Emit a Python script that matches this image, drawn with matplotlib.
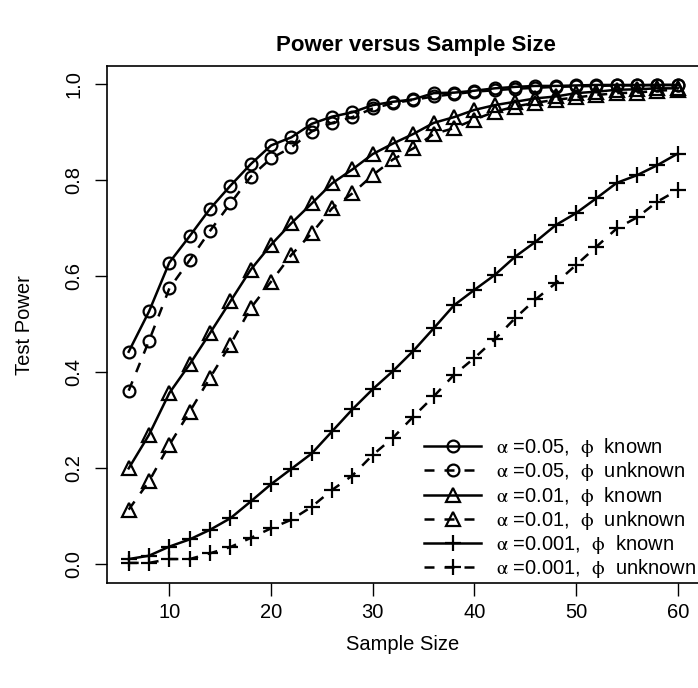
import numpy as np
import matplotlib
matplotlib.use('Agg')
import matplotlib.pyplot as plt

plt.rcParams['font.family'] = ['Liberation Sans', 'DejaVu Sans']
plt.rcParams['mathtext.fontset'] = 'stix'

# sample sizes 6, 8, ..., 60
n = list(range(6, 61, 2))

# alpha = 0.05
p05_known = [0.443, 0.527, 0.629, 0.684, 0.741, 0.789, 0.834, 0.873, 0.890, 0.918,
             0.933, 0.942, 0.957, 0.964, 0.969, 0.982, 0.983, 0.987, 0.992, 0.995,
             0.997, 0.997, 0.998, 0.999, 0.999, 0.999, 0.999, 0.999]
p05_unknown = [0.362, 0.466, 0.575, 0.634, 0.695, 0.752, 0.808, 0.846, 0.869, 0.902,
               0.920, 0.932, 0.950, 0.961, 0.968, 0.975, 0.980, 0.985, 0.988, 0.991,
               0.993, 0.995, 0.996, 0.997, 0.998, 0.998, 0.999, 0.999]
# alpha = 0.01
p01_known = [0.200, 0.270, 0.357, 0.417, 0.482, 0.548, 0.614, 0.666, 0.711, 0.752,
             0.794, 0.823, 0.855, 0.877, 0.897, 0.920, 0.932, 0.947, 0.957, 0.964,
             0.971, 0.975, 0.982, 0.985, 0.989, 0.990, 0.992, 0.992]
p01_unknown = [0.114, 0.173, 0.249, 0.318, 0.389, 0.458, 0.534, 0.589, 0.645, 0.690,
               0.742, 0.773, 0.811, 0.844, 0.867, 0.897, 0.909, 0.927, 0.943, 0.954,
               0.962, 0.968, 0.973, 0.978, 0.982, 0.983, 0.987, 0.989]
# alpha = 0.001
p001_known = [0.011, 0.018, 0.037, 0.052, 0.072, 0.096, 0.131, 0.167, 0.199, 0.231,
              0.277, 0.323, 0.365, 0.403, 0.445, 0.492, 0.540, 0.572, 0.603, 0.641,
              0.672, 0.707, 0.732, 0.763, 0.795, 0.811, 0.832, 0.856]
p001_unknown = [0.003, 0.003, 0.011, 0.011, 0.023, 0.036, 0.055, 0.075, 0.093, 0.120,
                0.155, 0.185, 0.228, 0.264, 0.308, 0.350, 0.395, 0.430, 0.469, 0.513,
                0.552, 0.586, 0.624, 0.662, 0.700, 0.723, 0.756, 0.780]

labels = [r'$\mathrm{\alpha}$ =0.05,  $\mathrm{\phi}$  known',
          r'$\mathrm{\alpha}$ =0.05,  $\mathrm{\phi}$  unknown',
          r'$\mathrm{\alpha}$ =0.01,  $\mathrm{\phi}$  known',
          r'$\mathrm{\alpha}$ =0.01,  $\mathrm{\phi}$  unknown',
          r'$\mathrm{\alpha}$ =0.001,  $\mathrm{\phi}$  known',
          r'$\mathrm{\alpha}$ =0.001,  $\mathrm{\phi}$  unknown']

fig = plt.figure(figsize=(6.98, 6.88), dpi=100)
ax = fig.add_axes([0.1529, 0.1522, 0.8496, 0.7522])

series = [p05_known, p05_unknown, p01_known, p01_unknown, p001_known, p001_unknown]
markers = ['o', 'o', '^', '^', '+', '+']
msizes = [8.5, 8.5, 10, 10, 12, 12]
for i, y in enumerate(series):
    ls = '-' if i % 2 == 0 else (0, (4, 4))
    ax.plot(n, y, color='black', lw=1.8, ls=ls, marker=markers[i],
            ms=msizes[i], mfc='none', mec='black', mew=1.6, label=labels[i])

ax.set_xlim(3.84, 62.16)
ax.set_ylim(-0.0395, 1.039)
ax.set_xticks([10, 20, 30, 40, 50, 60])
ax.set_yticks([0.0, 0.2, 0.4, 0.6, 0.8, 1.0])
ax.set_yticklabels(['0.0', '0.2', '0.4', '0.6', '0.8', '1.0'], rotation=90, va='center')
ax.tick_params(axis='both', length=9, width=1.0, labelsize=14.5, direction='out')
ax.tick_params(axis='x', pad=5)
ax.tick_params(axis='y', pad=8)
for s in ax.spines.values():
    s.set_linewidth(1.2)

# axis labels and title placed in figure pixels
fig.text(403 / 698, 1 - 645 / 688, 'Sample Size', ha='center', va='center', fontsize=14.5)
fig.text(25 / 698, 1 - 325 / 688, 'Test Power', ha='center', va='center',
         rotation=90, fontsize=14.5)
fig.text(416 / 698, 1 - 45 / 688, 'Power versus Sample Size', ha='center', va='center',
         fontsize=16, fontweight='bold')

ax.legend(loc='lower right', frameon=False, fontsize=14.5, handlelength=2.85,
          handletextpad=0.75, labelspacing=0.06, borderaxespad=0.0, borderpad=0.15,
          bbox_to_anchor=(1.0, 0.0))

fig.savefig('out.png', dpi=100)
